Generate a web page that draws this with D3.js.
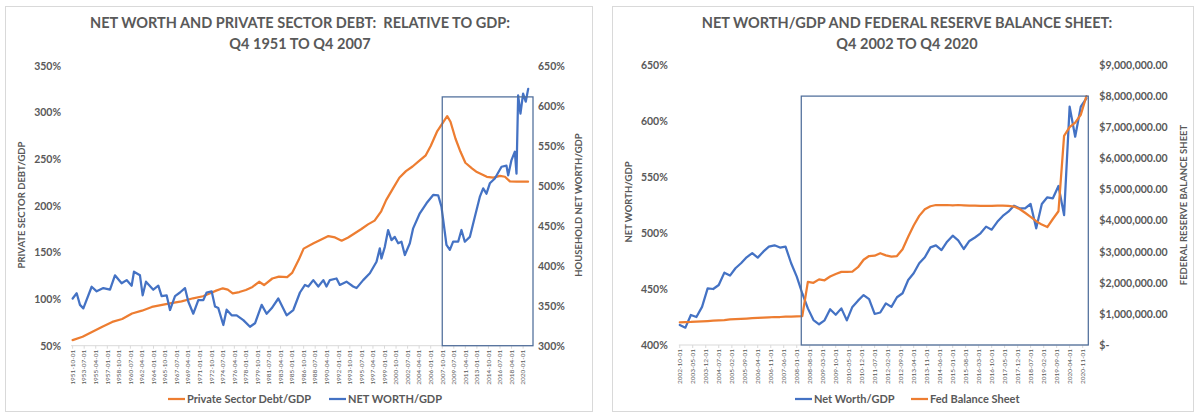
<!DOCTYPE html>
<html><head><meta charset="utf-8">
<script src="https://cdn.jsdelivr.net/npm/d3@7"></script>
<style>body{margin:0;background:#fff;} svg{display:block;}</style>
</head><body><svg id="c" width="1197" height="415"></svg>
<script>
// ---------- LEFT CHART DATA ----------
const leftTitle = ["NET WORTH AND PRIVATE SECTOR DEBT:  RELATIVE TO GDP:", "Q4 1951 TO Q4 2007"];
const debtYears = [1951.75,1953.25,1954.75,1956.25,1957.75,1959.25,1960.75,1962.25,1963.75,1965.5,1966.5,1968.25,1970.0,1971.5,1972.5,1973.5,1974.5,1975.25,1976.0,1977.0,1978.0,1979.0,1980.0,1980.75,1982.0,1983.0,1984.25,1985.0,1986.0,1986.75,1988.25,1989.5,1990.5,1991.5,1992.5,1993.5,1994.5,1995.5,1996.5,1997.5,1998.5,1999.25,2000.25,2001.25,2002.25,2003.25,2004.25,2005.25,2006.0,2007.0,2007.75,2008.5,2009.0,2009.75,2010.5,2011.25,2012.25,2013.0,2014.5,2015.5,2016.5,2017.25,2018.0,2019.0,2020.75];
const debtValues = [56,59.6,65,70.4,75.5,78.6,84.5,87.5,91.5,94,95.4,97.5,100.8,103,106,109,111.5,110,106,107.5,109.7,113,118.5,115,122,124,123.5,128,142,154,159.7,164,167.5,166,162.5,166,170.5,175,180,184,194,206,218,230,237,242,248,254,264,280,288,296,290,272,258,246,240,236,231,230,232,231,226,225.7,225.7];
const nwLeftYears = [1951.75,1952.36,1952.86,1953.37,1954.63,1955.39,1956.4,1957.41,1958.16,1959.17,1959.93,1960.69,1961.04,1961.95,1962.36,1962.86,1963.97,1964.73,1965.23,1965.99,1966.5,1967.26,1968.01,1968.77,1969.28,1970.03,1970.79,1971.55,1972.05,1972.81,1973.32,1973.82,1974.58,1975.08,1975.84,1976.6,1977.61,1978.62,1979.38,1980.39,1981.14,1981.9,1982.91,1984.17,1985.18,1986.19,1986.95,1987.46,1988.21,1988.97,1989.73,1990.21,1990.72,1991.73,1992.23,1993.24,1994.25,1994.76,1995.77,1996.78,1997.79,1998.29,1998.54,1999.05,1999.55,2000.06,2000.56,2001.07,2001.57,2002.08,2002.84,2003.34,2004.35,2005.36,2006.37,2007.13,2007.63,2008.39,2008.9,2009.4,2010.16,2010.66,2011.17,2011.93,2012.68,2013.44,2013.95,2014.45,2014.96,2015.72,2016.73,2017.48,2017.74,2018.24,2018.75,2019.0,2019.25,2019.6,2020.0,2020.4,2020.77];
const nwLeftValues = [359,365.5,351,346.7,373.7,368,372,370,388,378,382,375,392.5,388,363,380,370,375,362,363,344.6,362,366.5,372,355,340,357,357,366.5,368,349,347,325.9,345,338,338,332,323.7,328,351,340,346.7,359,338,344.6,366.5,376,374,382,374,382,374,382,384,376,380,374,372,382,390.5,405,421.7,409,423.6,444.6,432,436,428,430,413.4,428,446.7,465.5,478,488.4,488,473.8,425.9,419.8,430,430,444.6,430,436,461,486,496.7,490,503,509,523.7,525,513,532,542.5,515,613,590,615,605,621];
const leftTickLabels = ["1951-10-01","1953-07-01","1955-04-01","1957-01-01","1958-10-01","1960-07-01","1962-04-01","1964-01-01","1965-10-01","1967-07-01","1969-04-01","1971-01-01","1972-10-01","1974-07-01","1976-04-01","1978-01-01","1979-10-01","1981-07-01","1983-04-01","1985-01-01","1986-10-01","1988-07-01","1990-04-01","1992-01-01","1993-10-01","1995-07-01","1997-04-01","1999-01-01","2000-10-01","2002-07-01","2004-04-01","2006-01-01","2007-10-01","2009-07-01","2011-04-01","2013-01-01","2014-10-01","2016-07-01","2018-04-01","2020-01-01"];
const debtTicks = [50,100,150,200,250,300,350];
const nwLeftTicks = [300,350,400,450,500,550,600,650];
const leftBoxSpan = [2007.75, 2021.5];
const leftBoxTop = 611;

// ---------- RIGHT CHART DATA ----------
const rightTitle = ["NET WORTH/GDP AND FEDERAL RESERVE BALANCE SHEET:", "Q4 2002 TO Q4 2020"];
const quarterStart = "2002-10-01";
const nwRightValues = [417.9,415.5,426.8,425,434,450.6,450,453.6,464.6,462,468.5,473,478.3,482,478,483.3,487.8,489,487,487.8,473,461,446,432.7,422.3,418.5,422,431.9,427,432.7,422,434,439.6,444.6,441,427.7,429,437.2,434,442.6,446.2,458,464,473,478.3,487.2,489,484.8,492.2,497.6,493.5,485.7,492.9,496,499.7,505.7,503,510,515.2,519,524.4,522,522,525.9,504.2,525.9,531.9,531,542,516,612.8,586,612.8,620.3];
const fedValues = [730000,735000,740000,750000,760000,770000,780000,790000,800000,820000,830000,840000,850000,860000,870000,880000,890000,900000,900000,910000,910000,920000,930000,2030000,2000000,2110000,2080000,2200000,2280000,2350000,2350000,2360000,2500000,2740000,2860000,2870000,2950000,2880000,2840000,2860000,3080000,3480000,3840000,4150000,4360000,4460000,4500000,4500000,4500000,4490000,4500000,4490000,4480000,4480000,4470000,4470000,4470000,4480000,4480000,4470000,4450000,4370000,4250000,4120000,3980000,3870000,3790000,4050000,4300000,6720000,7000000,7150000,7400000,8000000];
const rightTickLabels = ["2002-10-01","2003-05-01","2003-12-01","2004-07-01","2005-02-01","2005-09-01","2006-04-01","2006-11-01","2007-06-01","2008-01-01","2008-08-01","2009-03-01","2009-10-01","2010-05-01","2010-12-01","2011-07-01","2012-02-01","2012-09-01","2013-04-01","2013-11-01","2014-06-01","2015-01-01","2015-08-01","2016-03-01","2016-10-01","2017-05-01","2017-12-01","2018-07-01","2019-02-01","2019-09-01","2020-04-01","2020-11-01"];
const nwRightTicks = [400,450,500,550,600,650];
const fedTicks = [0,1000000,2000000,3000000,4000000,5000000,6000000,7000000,8000000,9000000];
const rightBoxSpan = ["2008-03-15","2021-02-01"];
const rightBoxTop = 8000000;

// ---------- STYLE ----------
const TXT = "#595959", BLUE = "#4472C4", ORANGE = "#ED7D31", BOXC = "#4E6D9A", GRID = "#d9d9d9";
const FONT = "Lato, 'Open Sans', sans-serif";
const svg = d3.select("#c").style("font-family", FONT);
const parse = d3.timeParse("%Y-%m-%d");
const yearFrac = s => { const d = parse(s); return d.getFullYear() + d.getMonth()/12; };

function panel(x0, x1) {
  svg.append("rect").attr("x", x0 + .5).attr("y", 6.5).attr("width", x1 - x0).attr("height", 405)
    .attr("fill", "#fff").attr("stroke", GRID).attr("stroke-width", 1);
}
function title(lines, cx) {
  const t = svg.append("text").attr("text-anchor", "middle").attr("fill", TXT)
    .attr("font-size", 14.5).attr("font-weight", 700).style("white-space", "pre");
  lines.forEach((l, i) => t.append("tspan").attr("x", cx).attr("y", 28 + i * 21).text(l));
}
function yAxis(scale, x, ticks, fmt, side, pad) {
  const ax = (side === "left" ? d3.axisLeft(scale) : d3.axisRight(scale))
    .tickValues(ticks).tickFormat(fmt).tickSize(0).tickPadding(pad);
  const g = svg.append("g").attr("transform", `translate(${x},0)`).call(ax);
  g.select(".domain").remove();
  g.selectAll("text").attr("fill", TXT).attr("font-size", 10.5).attr("font-weight", 700)
    .style("font-family", FONT);
}
function xAxis(scale, y, tickVals, labels) {
  const [r0, r1] = scale.range();
  svg.append("line").attr("x1", r0).attr("x2", r1).attr("y1", y).attr("y2", y)
    .attr("stroke", GRID).attr("stroke-width", 1);
  const g = svg.append("g");
  tickVals.forEach((v, i) => {
    const x = scale(v);
    g.append("line").attr("x1", x).attr("x2", x).attr("y1", y).attr("y2", y + 3)
      .attr("stroke", GRID).attr("stroke-width", 1);
    g.append("text").attr("transform", `translate(${x},${y + 4}) rotate(-90)`)
      .attr("text-anchor", "end").attr("dy", "0.35em").attr("fill", TXT)
      .attr("font-size", 6.5).attr("font-weight", 400).text(labels[i]);
  });
}
function axisTitle(text, x, y) {
  svg.append("text").attr("transform", `translate(${x},${y}) rotate(-90)`)
    .attr("text-anchor", "middle").attr("dy", "0.35em").attr("fill", TXT)
    .attr("font-size", 9.5).attr("font-weight", 700).text(text);
}
function drawLine(data, xs, ys, color) {
  svg.append("path").datum(data).attr("fill", "none").attr("stroke", color)
    .attr("stroke-width", 2.25).attr("stroke-linejoin", "round").attr("stroke-linecap", "round")
    .attr("d", d3.line().x(d => xs(d[0])).y(d => ys(d[1])));
}
function legendItem(x, y, color, label) {
  svg.append("line").attr("x1", x).attr("x2", x + 17).attr("y1", y).attr("y2", y)
    .attr("stroke", color).attr("stroke-width", 2.25);
  svg.append("text").attr("x", x + 19).attr("y", y).attr("dy", "0.35em").attr("fill", TXT)
    .attr("font-size", 11).attr("font-weight", 700).text(label);
}

// ================= LEFT CHART =================
panel(5, 592);
title(leftTitle, 300);
const xL = d3.scaleLinear().domain([1951.5, 2021.5]).range([71, 533]);
const yL1 = d3.scaleLinear().domain([50, 350]).range([345.7, 65.7]);
const yL2 = d3.scaleLinear().domain([300, 650]).range([345.7, 65.7]);
yAxis(yL1, 71, debtTicks, d => d + "%", "left", 10);
yAxis(yL2, 533, nwLeftTicks, d => d + "%", "right", 5);
xAxis(xL, 345.7, leftTickLabels.map(yearFrac), leftTickLabels);
axisTitle("PRIVATE SECTOR DEBT/GDP", 22, 205);
axisTitle("HOUSEHOLD NET WORTH/GDP", 579, 205);
drawLine(debtYears.map((t, i) => [t, debtValues[i]]), xL, yL1, ORANGE);
drawLine(nwLeftYears.map((t, i) => [t, nwLeftValues[i]]), xL, yL2, BLUE);
svg.append("rect").attr("x", xL(leftBoxSpan[0])).attr("y", yL2(leftBoxTop))
  .attr("width", xL(leftBoxSpan[1]) - xL(leftBoxSpan[0])).attr("height", yL2(300) - yL2(leftBoxTop))
  .attr("fill", "none").attr("stroke", BOXC).attr("stroke-width", 1.25);
legendItem(168, 399, ORANGE, "Private Sector Debt/GDP");
legendItem(329, 399, BLUE, "NET WORTH/GDP");

// ================= RIGHT CHART =================
panel(612, 1193);
title(rightTitle, 907);
const xR = d3.scaleTime().domain([parse("2002-09-15"), parse("2021-02-01")]).range([678.8, 1088.3]);
const yR1 = d3.scaleLinear().domain([400, 650]).range([345, 65]);
const yR2 = d3.scaleLinear().domain([0, 9000000]).range([345, 65]);
const qDates = nwRightValues.map((_, i) => d3.timeMonth.offset(parse(quarterStart), 3 * i));
yAxis(yR1, 678.8, nwRightTicks, d => d + "%", "left", 11);
yAxis(yR2, 1088.3, fedTicks, d => d === 0 ? "$-" : "$" + d3.format(",.2f")(d), "right", 11);
xAxis(xR, 345, rightTickLabels.map(parse), rightTickLabels);
axisTitle("NET WORTH/GDP", 629, 202);
axisTitle("FEDERAL RESERVE BALANCE SHEET", 1184, 205);
drawLine(qDates.map((d, i) => [d, nwRightValues[i]]), xR, yR1, BLUE);
drawLine(qDates.map((d, i) => [d, fedValues[i]]), xR, yR2, ORANGE);
svg.append("rect").attr("x", xR(parse(rightBoxSpan[0]))).attr("y", yR2(rightBoxTop))
  .attr("width", xR(parse(rightBoxSpan[1])) - xR(parse(rightBoxSpan[0]))).attr("height", yR2(0) - yR2(rightBoxTop))
  .attr("fill", "none").attr("stroke", BOXC).attr("stroke-width", 1.25);
legendItem(795, 399, BLUE, "Net Worth/GDP");
legendItem(911, 399, ORANGE, "Fed Balance Sheet");
</script></body></html>
